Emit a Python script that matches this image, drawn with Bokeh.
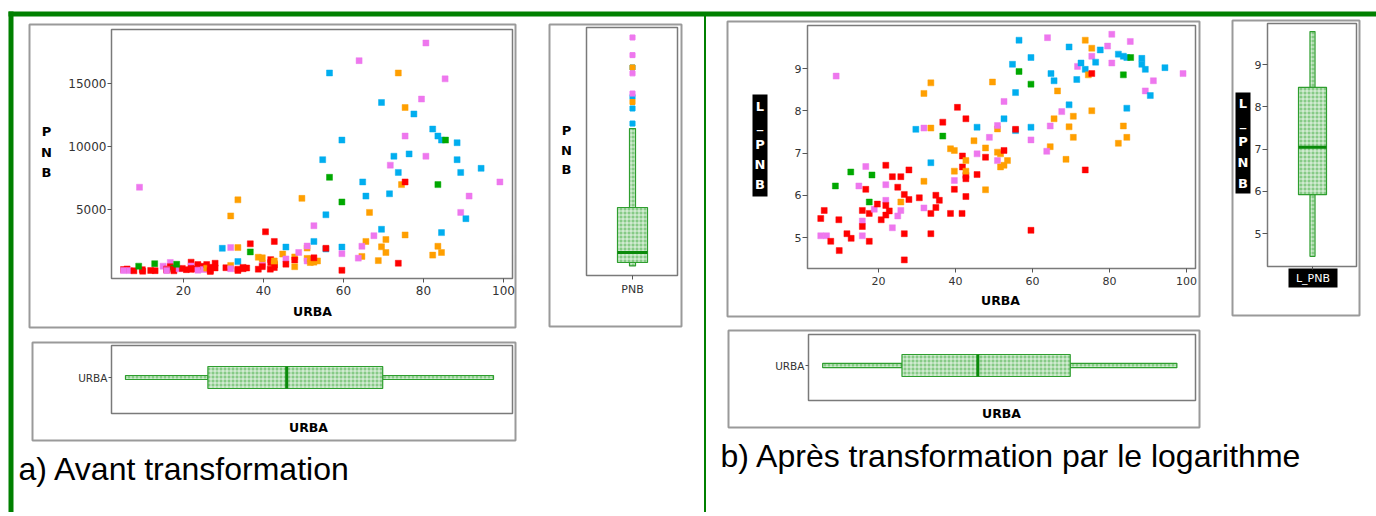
import math
from bokeh.plotting import figure
from bokeh.models import Range1d, LinearAxis, FixedTicker, ColumnDataSource
from bokeh.core.properties import value
from bokeh.embed import file_html
from bokeh.resources import INLINE

# ---------------- data ----------------
urba = [9.0, 5.0, 5.9, 5.0, 6.5, 7.6, 9.7, 9.8, 8.8, 12.8,
        11.8, 12.9, 14.9, 16.7, 16.7, 15.8, 15.8, 15.8, 15.8, 17.6,
        17.6, 17.6, 18.9, 19.7, 18.3, 21.9, 21.9, 21.9, 21.9, 21.9,
        20.7, 22.8, 23.6, 23.6, 25.0, 25.0, 25.8, 25.8, 25.8, 26.7,
        26.7, 26.7, 27.9, 27.9, 30.6, 31.8, 29.7, 31.8, 33.6, 33.6,
        31.8, 33.6, 31.8, 33.6, 33.6, 34.9, 35.8, 34.9, 36.7, 36.7,
        38.7, 39.7, 39.7, 39.7, 39.7, 38.7, 41.7, 40.5, 42.7, 41.8,
        41.8, 42.7, 42.7, 42.7, 42.7, 42.7, 45.6, 44.8, 45.6, 45.6,
        47.8, 47.8, 47.8, 48.8, 49.6, 50.9, 50.9, 50.9, 50.9, 51.7,
        52.6, 53.5, 51.7, 52.6, 52.6, 52.6, 54.8, 56.5, 56.5, 55.6,
        55.6, 55.6, 59.6, 59.6, 59.6, 59.6, 59.6, 63.9, 64.8, 65.6,
        66.5, 65.6, 64.6, 64.6, 63.7, 67.6, 69.5, 69.5, 69.5, 70.6,
        70.6, 68.7, 73.7, 73.7, 75.4, 75.4, 71.7, 71.5, 72.6, 73.7,
        74.5, 75.4, 76.4, 77.6, 79.5, 80.6, 80.6, 75.4, 82.3, 83.6,
        84.5, 85.5, 85.4, 83.6, 88.4, 88.4, 89.3, 94.4, 99.1, 91.4,
        89.3, 90.6, 84.5, 83.6, 84.5, 82.3]
l_pnb = [8.82, 5.45, 5.64, 5.04, 5.04, 4.91, 5.42, 4.69, 6.22, 6.55,
         5.09, 4.98, 6.22, 6.68, 6.14, 5.64, 5.39, 5.26, 5.04, 4.91,
         5.84, 5.57, 5.67, 5.79, 6.48, 6.71, 6.25, 5.88, 5.76, 5.53,
         5.42, 5.63, 6.44, 5.23, 6.19, 5.51, 5.64, 6.44, 5.84, 6.02,
         5.09, 4.47, 6.60, 5.90, 5.94, 8.41, 7.56, 7.59, 8.66, 7.59,
         6.33, 6.77, 5.70, 5.57, 5.09, 6.00, 5.88, 5.71, 7.40, 7.73,
         7.10, 7.06, 6.57, 6.35, 6.14, 5.57, 5.57, 8.08, 7.81, 6.93,
         6.67, 6.47, 6.39, 6.82, 6.57, 5.97, 7.61, 7.29, 6.98, 6.49,
         7.12, 6.90, 6.13, 7.37, 8.68, 7.57, 7.65, 7.02, 6.82, 6.67,
         6.71, 6.82, 6.98, 7.06, 8.22, 7.81, 9.10, 9.67, 8.93, 8.43,
         7.53, 7.56, 9.26, 8.63, 7.61, 7.31, 5.17, 9.73, 8.88, 8.71,
         8.47, 7.81, 7.64, 7.15, 7.04, 7.98, 9.51, 8.14, 7.62, 7.87,
         7.37, 6.85, 6.60, 9.67, 9.48, 9.29, 9.05, 8.74, 9.13, 8.98,
         8.85, 8.88, 9.15, 9.44, 9.53, 9.81, 9.13, 8.00, 9.34, 9.29,
         9.26, 9.26, 9.64, 8.85, 9.24, 9.10, 8.98, 9.02, 8.88, 8.71,
         8.47, 8.36, 8.06, 7.64, 7.37, 7.23]
groupe = ["V", "R", "R", "V", "V", "R", "R", "R", "G", "G",
          "R", "R", "V", "V", "R", "R", "V", "R", "V", "R",
          "G", "R", "V", "R", "G", "R", "V", "V", "R", "R",
          "R", "R", "R", "V", "R", "V", "V", "R", "O", "R",
          "R", "R", "R", "R", "R", "O", "B", "V", "O", "O",
          "O", "B", "V", "R", "R", "R", "R", "R", "G", "R",
          "O", "O", "O", "V", "R", "R", "R", "R", "R", "R",
          "R", "R", "R", "O", "O", "R", "B", "O", "V", "R",
          "O", "R", "O", "V", "O", "O", "V", "O", "V", "O",
          "O", "O", "O", "R", "V", "B", "B", "B", "G", "B",
          "B", "R", "B", "G", "B", "V", "R", "V", "B", "B",
          "O", "O", "V", "O", "V", "V", "B", "B", "O", "O",
          "O", "O", "R", "O", "O", "V", "V", "B", "B", "B",
          "O", "R", "B", "B", "V", "V", "V", "O", "B", "B",
          "B", "G", "V", "G", "B", "B", "B", "B", "V", "V",
          "V", "B", "B", "O", "O", "O"]
# panel a) shows the raw variable PNB, panel b) its logarithm L_PNB = ln(PNB)
pnb = [math.exp(v) for v in l_pnb]

# box-plot summaries: low whisker, Q1, median, Q3, high whisker
urba_box = [5.5, 26.1, 45.8, 69.8, 97.5]
pnb_box = [86, 357, 1151, 4722, 10990]
l_pnb_box = [4.46, 5.92, 7.04, 8.46, 9.78]

urba_ticks = [20, 40, 60, 80, 100]
pnb_ticks = [5000, 10000, 15000]
l_pnb_ticks = [5, 6, 7, 8, 9]

couleurs = {"R": "#FF0000", "G": "#00A800", "B": "#00AEEF", "O": "#FF9F00", "V": "#EE77EE"}
pt_colors = [couleurs[g] for g in groupe]

# ---------------- canvas (page coordinates) ----------------
W, H = 1376, 512
OX, OY = 0, 0
p = figure(width=W, height=H, x_range=Range1d(OX, OX + W), y_range=Range1d(OY + H, OY),
           min_border=0, toolbar_location=None, output_backend="svg",
           x_axis_type=None, y_axis_type=None, outline_line_color=None)
p.background_fill_color = "white"
p.border_fill_color = "white"

xr, yr = {}, {}


def xmap(name, d0, p0, d1, p1):
    a = (p1 - p0) / (d1 - d0)
    xr[name] = Range1d(d0 + (OX - p0) / a, d0 + (OX + W - p0) / a)
    return lambda px: d0 + (px - p0) / a


def ymap(name, d0, p0, d1, p1):
    a = (p1 - p0) / (d1 - d0)
    yr[name] = Range1d(d0 + (OY + H - p0) / a, d0 + (OY - p0) / a)
    return lambda py: d0 + (py - p0) / a


xa = xmap("xa", 0, 103, 100, 503)
ya = ymap("ya", 0, 272, 5000, 209)
xbp = xmap("xbp", 0, 632, 1, 647)
ybp = ymap("ybp", 0, 266.5, 5000, 203.5)
yua = ymap("yua", 0, 377, 1, 366)
xB = xmap("xB", 0, 801, 100, 1186)
yB = ymap("yB", 5, 237, 9, 68)
xl = xmap("xl", 0, 1312, 1, 1326)
yl = ymap("yl", 5, 233, 9, 64)
yub = ymap("yub", 0, 365, 1, 354)
p.extra_x_ranges = xr
p.extra_y_ranges = yr

GREEN = "#008000"


def bar(l, r, t, b, color):
    p.quad(left=[l], right=[r], top=[t], bottom=[b], fill_color=color, line_color=None)


def frame(l, r, t, b, color, w):
    p.quad(left=[l], right=[r], top=[t], bottom=[b], fill_color=None, line_color=color, line_width=w)


# green page frame
bar(8, 1376, 11, 16, GREEN)
bar(8, 13, 11, 512, GREEN)
bar(703.5, 705.5, 15, 512, GREEN)

# panel frames
for l, r, t, b in [(29, 515, 24, 327), (549, 681, 24, 326), (32, 515, 342, 440),
                   (727, 1199, 21, 316), (1232, 1359, 20, 315), (728, 1199, 330, 427)]:
    frame(l, r, t, b, "#9A9A9A", 2)
for l, r, t, b in [(111, 512, 29, 278), (586, 677, 27, 275), (111, 512, 345, 413),
                   (807, 1195, 25, 268), (1267, 1356, 23, 266), (808, 1195, 334, 400)]:
    frame(l, r, t, b, "#7A7A7A", 1.5)

# ---------------- scatter plots ----------------
src_a = ColumnDataSource(dict(x=urba, y=pnb, c=pt_colors))
p.scatter("x", "y", source=src_a, marker="square", size=6, fill_color="c", line_color="c",
          line_alpha=0.45, line_width=1, x_range_name="xa", y_range_name="ya")
src_b = ColumnDataSource(dict(x=urba, y=l_pnb, c=pt_colors))
p.scatter("x", "y", source=src_b, marker="square", size=6, fill_color="c", line_color="c",
          line_alpha=0.45, line_width=1, x_range_name="xB", y_range_name="yB")

# ---------------- box plots ----------------
box_style = dict(fill_color="#86CA86", hatch_pattern="+", hatch_color="white", hatch_alpha=0.75,
                 hatch_scale=4, hatch_weight=1, line_color="#2E9E2E", line_width=1.2)
MED = "#0A8A0A"


def hbox(xn, yn, s, half=1.0, wh=0.2):
    p.quad(left=[s[0], s[3]], right=[s[1], s[4]], bottom=[-wh, -wh], top=[wh, wh],
           x_range_name=xn, y_range_name=yn, **box_style)
    p.quad(left=[s[1]], right=[s[3]], bottom=[-half], top=[half],
           x_range_name=xn, y_range_name=yn, **box_style)
    p.segment(x0=[s[2]], x1=[s[2]], y0=[-half], y1=[half], line_color=MED, line_width=3,
              x_range_name=xn, y_range_name=yn)


def vbox(xn, yn, s, half=1.0, wh=0.2):
    p.quad(bottom=[s[0], s[3]], top=[s[1], s[4]], left=[-wh, -wh], right=[wh, wh],
           x_range_name=xn, y_range_name=yn, **box_style)
    p.quad(bottom=[s[1]], top=[s[3]], left=[-half], right=[half],
           x_range_name=xn, y_range_name=yn, **box_style)
    p.segment(y0=[s[2]], y1=[s[2]], x0=[-half], x1=[half], line_color=MED, line_width=3,
              x_range_name=xn, y_range_name=yn)


hbox("xa", "yua", urba_box, 1.0, 0.18)
hbox("xB", "yub", urba_box, 1.0, 0.2)
vbox("xbp", "ybp", pnb_box, 1.0, 0.2)
vbox("xl", "yl", l_pnb_box, 1.0, 0.18)

out = [i for i, v in enumerate(pnb) if v > pnb_box[4]]
p.scatter(x=[0] * len(out), y=[pnb[i] for i in out], marker="square", size=5,
          color=[pt_colors[i] for i in out], x_range_name="xbp", y_range_name="ybp")


# ---------------- axes ----------------
def axis(side, xn, yn, loc, ticks, bnds, size, overrides=None, standoff=2, tick_out=4):
    ax = LinearAxis(x_range_name=xn, y_range_name=yn, fixed_location=loc,
                    ticker=FixedTicker(ticks=ticks), bounds=tuple(sorted(bnds)))
    ax.axis_line_color = None
    ax.major_tick_in = 0
    ax.major_tick_out = tick_out
    ax.major_tick_line_color = "#555555"
    ax.minor_tick_line_color = None
    ax.major_label_text_font = "DejaVu Sans"
    ax.major_label_text_font_size = f"{size}px"
    ax.major_label_text_color = "#333333"
    ax.major_label_standoff = standoff
    if overrides:
        ax.major_label_overrides = overrides
    p.add_layout(ax, side)


axis("below", "xa", "ya", ya(278), urba_ticks, (xa(111), xa(512)), 12, standoff=3)
axis("left", "xa", "ya", xa(111), pnb_ticks, (ya(278), ya(29)), 12, standoff=1)
axis("below", "xbp", "ybp", ybp(275), [0], (xbp(586), xbp(677)), 11, {0: "PNB"}, standoff=3)
axis("left", "xa", "yua", xa(111), [0], (yua(413), yua(345)), 10.5, {0: "URBA"}, standoff=1, tick_out=3)
axis("below", "xB", "yB", yB(268), urba_ticks, (xB(807), xB(1195)), 11, standoff=4)
axis("left", "xB", "yB", xB(807), l_pnb_ticks, (yB(268), yB(25)), 11, standoff=1, tick_out=5)
axis("left", "xl", "yl", xl(1267), l_pnb_ticks, (yl(266), yl(23)), 11, standoff=1, tick_out=5)
axis("below", "xl", "yl", yl(266), [0], (xl(1267), xl(1356)), 11, {0: " "}, tick_out=3)
axis("left", "xB", "yub", xB(808), [0], (yub(400), yub(334)), 10.5, {0: "URBA"}, standoff=1, tick_out=3)

# ---------------- texts ----------------
FONT = value("DejaVu Sans")


def txt(xs, ys, ts, size, color="black", bold=True, align="center", baseline="middle", font=FONT):
    p.text(x=xs, y=ys, text=ts, text_font=font, text_font_size=value(size),
           text_font_style="bold" if bold else "normal", text_color=color,
           text_align=align, text_baseline=baseline)


txt([46, 46, 46], [131, 152, 172], ["P", "N", "B"], "13px")
txt([566, 566, 566], [130, 150, 169], ["P", "N", "B"], "13px")
txt([312, 308, 1000, 1001], [311, 427, 300, 413], ["URBA"] * 4, "12.5px")

bar(752, 767, 94, 196, "black")
bar(1235, 1250, 92, 193, "black")
bar(1288, 1337, 268, 287, "black")
txt([759.5] * 5, [106, 123, 144, 164, 184], ["L", "_", "P", "N", "B"], "13px", color="white")
txt([1242.5] * 5, [103, 121, 141, 162, 183], ["L", "_", "P", "N", "B"], "13px", color="white")
txt([1312.5], [277.5], ["L_PNB"], "11px", color="white", bold=False)

CAP = value("Liberation Sans")
txt([18], [468], ["a) Avant transformation"], "32px", bold=False, align="left",
    baseline="alphabetic", font=CAP)
txt([720], [455], ["b) Après transformation par le logarithme"], "32px", bold=False,
    align="left", baseline="alphabetic", font=CAP)

open("out.html", "w").write(file_html(p, INLINE))
